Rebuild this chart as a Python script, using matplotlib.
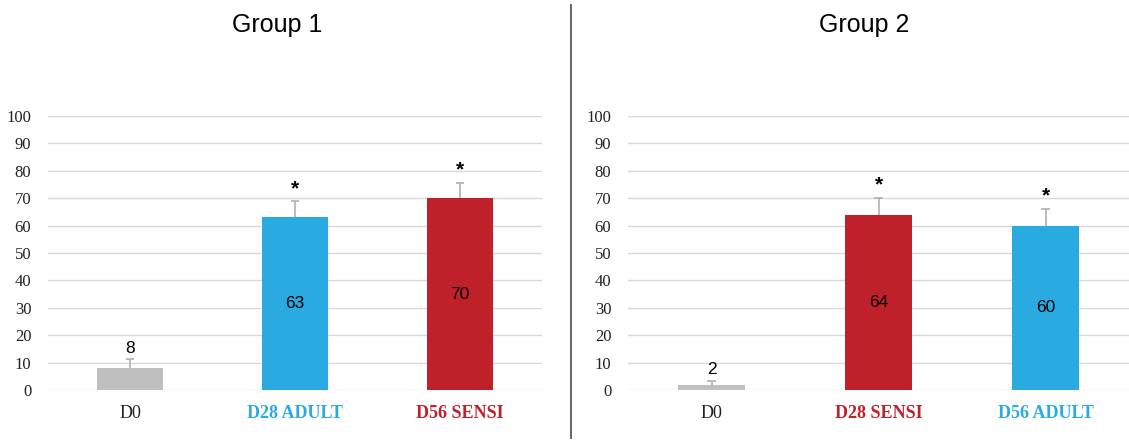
import matplotlib.pyplot as plt

# valores de cada grupo
categorias_g1 = ["D0", "D28 ADULT", "D56 SENSI"]
valores_g1 = [8, 63, 70]
errores_g1 = [3.2, 5.9, 5.7]

categorias_g2 = ["D0", "D28 SENSI", "D56 ADULT"]
valores_g2 = [2, 64, 60]
errores_g2 = [1.4, 6.2, 6.2]

significativo_g1 = [False, True, True]
significativo_g2 = [False, True, True]

GRIS = "#BFBFBF"
AZUL = "#29ABE2"
ROJO = "#C0202A"
colores_g1 = [GRIS, AZUL, ROJO]
colores_g2 = [GRIS, ROJO, AZUL]
colores_texto_g1 = ["#222222", AZUL, ROJO]
colores_texto_g2 = ["#222222", ROJO, AZUL]

fig = plt.figure(figsize=(11.29, 4.41), dpi=100)


def dibujar_grupo(ax, cats, vals, errs, sig, colores, colores_txt):
    x = list(range(len(cats)))
    ax.bar(x, vals, width=0.4, color=colores, zorder=2)

    # barra de error solo hacia arriba, con tope
    topes = [v + e for v, e in zip(vals, errs)]
    ax.vlines(x, vals, topes, color="#B0B0B0", linewidth=1.2, zorder=3)
    ax.hlines(topes, [i - 0.025 for i in x], [i + 0.025 for i in x],
              color="#B0B0B0", linewidth=1.2, zorder=3)

    ax.set_xlim(-0.5, len(cats) - 0.5)
    ax.set_ylim(0, 100)
    ax.set_yticks(range(0, 101, 10))
    ax.grid(axis="y", color="#D9D9D9", linewidth=1, zorder=0)
    for s in ax.spines.values():
        s.set_visible(False)
    ax.tick_params(length=0)
    ax.tick_params(axis="y", pad=12)
    ax.tick_params(axis="x", pad=11)
    for lbl in ax.get_yticklabels():
        lbl.set_fontfamily("Liberation Serif")
        lbl.set_fontsize(12)
        lbl.set_color("#222222")
    ax.set_xticks(x)
    ax.set_xticklabels(cats, fontfamily="Liberation Serif", fontsize=13, fontweight="bold")
    for lbl, c, i in zip(ax.get_xticklabels(), colores_txt, x):
        lbl.set_color(c)
        if i == 0:
            lbl.set_fontweight("normal")

    for i, (v, t, s) in enumerate(zip(vals, topes, sig)):
        if v < 20:
            ax.annotate(str(v), (i, t), xytext=(0, 2.5), textcoords="offset points",
                        ha="center", va="bottom", fontsize=12.5, fontfamily="Liberation Sans")
        else:
            ax.text(i, v / 2, str(v), ha="center", va="center", fontsize=12.5,
                    fontfamily="Liberation Sans")
        if s:
            ax.text(i, t + 4.5, "*", ha="center", va="center", fontsize=15,
                    fontfamily="Liberation Sans", fontweight="bold")


ax1 = fig.add_axes([48 / 1129, 51 / 441, 494 / 1129, 274 / 441])
ax2 = fig.add_axes([628 / 1129, 51 / 441, 501 / 1129, 274 / 441])

dibujar_grupo(ax1, categorias_g1, valores_g1, errores_g1,
              significativo_g1, colores_g1, colores_texto_g1)
dibujar_grupo(ax2, categorias_g2, valores_g2, errores_g2,
              significativo_g2, colores_g2, colores_texto_g2)

# títulos a la altura fija de la figura
fig.text(277 / 1129, 1 - 25 / 441, "Group 1", ha="center", va="center",
         fontsize=18, fontfamily="Liberation Sans")
fig.text(864 / 1129, 1 - 25 / 441, "Group 2", ha="center", va="center",
         fontsize=18, fontfamily="Liberation Sans")

# separador entre paneles
fig.add_artist(plt.Line2D([571 / 1129, 571 / 1129], [3 / 441, 436 / 441],
                          color="#595959", linewidth=1.3))

fig.savefig("out.png", dpi=100)
